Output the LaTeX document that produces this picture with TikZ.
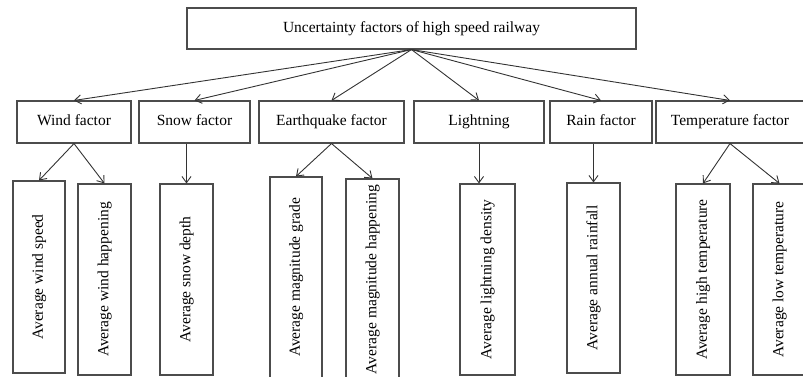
\documentclass[tikz,border=0pt]{standalone}
\usepackage{fontspec}
\setmainfont{Liberation Serif}
\usetikzlibrary{arrows.meta}

\begin{document}
\begin{tikzpicture}[x=1pt,y=-1pt,every node/.style={font=\fontsize{15.5}{18}\selectfont,text height=11pt,text depth=3.5pt},
 box/.style={draw=black!70,line width=1.1pt,minimum height=42pt,inner sep=0pt},
 leaf/.style={draw=black!70,line width=1.1pt,rotate=90,minimum width=191pt,minimum height=53pt,inner sep=0pt},
 arr/.style={-{Straight Barb[length=2.2mm,width=3.2mm]},line width=0.9pt,draw=black!80}]
\useasboundingbox (0,0) rectangle (803,376);
\clip (0,0) rectangle (803,376);
% root and factors
\node[box,minimum width=449pt,minimum height=41pt] (top) at (411.5,28.5) {Uncertainty factors of high speed railway};
\node[box,minimum width=114pt] (wind) at (74,122) {Wind factor};
\node[box,minimum width=111pt] (snow) at (194.5,122) {Snow factor};
\node[box,minimum width=145pt] (quake) at (331.5,122) {Earthquake factor};
\node[box,minimum width=130pt] (light) at (479,122) {Lightning};
\node[box,minimum width=102pt] (rain) at (601,122) {Rain factor};
\node[box,minimum width=148pt] (temp) at (730,122) {Temperature factor};
% indicators
\node[leaf,minimum width=192pt,minimum height=52pt] (ws) at (39,277) {Average wind speed};
\node[leaf] (wh) at (104.5,279.5) {Average wind happening};
\node[leaf] (sd) at (186.5,279.5) {Average snow depth};
\node[leaf,minimum width=201pt,minimum height=52pt] (mg) at (296,277.5) {Average magnitude grade};
\node[leaf,minimum width=201pt] (mh) at (372.5,279.5) {Average magnitude happening};
\node[leaf,minimum height=55pt] (ld) at (487.5,279.5) {Average lightning density};
\node[leaf,minimum width=190pt] (ar) at (593.5,278) {Average annual rainfall};
\node[leaf,minimum height=54pt] (ht) at (703,279.5) {Average high temperature};
\node[leaf] (lt) at (779.5,279.5) {Average low temperature};
% connectors
\foreach \f in {wind,snow,quake,light,rain,temp}
  \draw[arr] (top.south) -- (\f.north);
\draw[arr] (wind.south) -- (ws.east);
\draw[arr] (wind.south) -- (wh.east);
\draw[arr] (sd.east |- snow.south) -- (sd.east);
\draw[arr] (quake.south) -- (mg.east);
\draw[arr] (quake.south) -- (mh.east);
\draw[arr] (light.south) -- (light.south |- ld.east);
\draw[arr] (ar.east |- rain.south) -- (ar.east);
\draw[arr] (temp.south) -- (ht.east);
\draw[arr] (temp.south) -- (lt.east);
\end{tikzpicture}
\end{document}
